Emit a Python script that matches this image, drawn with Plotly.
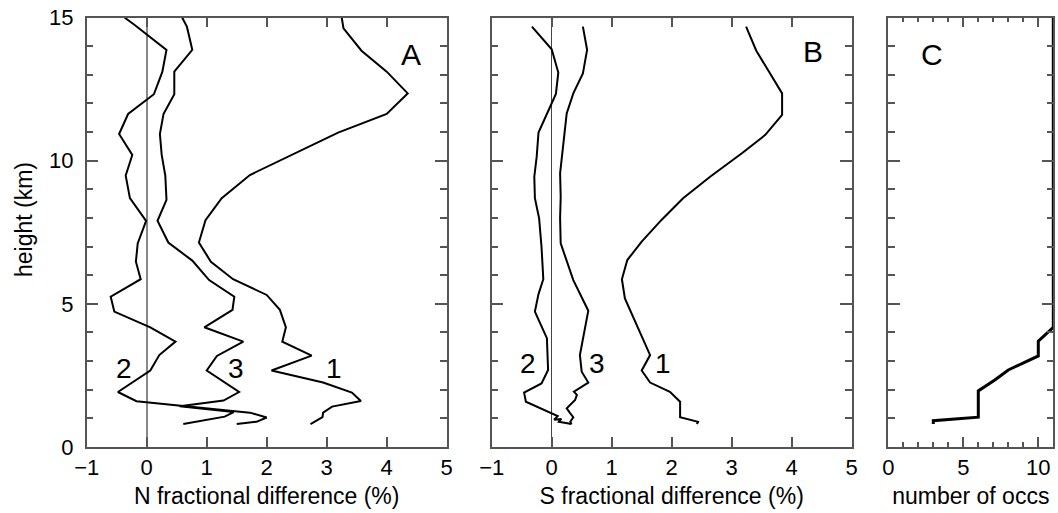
import plotly.graph_objects as go

# ---------------- data ----------------
# Panel A: N fractional difference (%)
a1_h = [15.0, 14.62, 13.84, 13.11, 12.35, 11.63, 10.98, 9.50, 8.69, 7.92, 7.14, 6.47, 5.86, 5.31,
        4.79, 4.18, 3.68, 3.19, 2.67, 2.25, 1.90, 1.61, 1.41, 1.20, 1.04, 0.80]
a1_x = [3.25, 3.28, 3.58, 4.00, 4.35, 4.00, 3.19, 1.72, 1.25, 0.98, 0.87, 1.07, 1.44, 2.00,
        2.22, 2.32, 2.26, 2.75, 2.08, 2.94, 3.42, 3.57, 3.09, 2.94, 2.93, 2.73]

a2_h = [15.0, 14.74, 13.87, 13.10, 12.32, 11.63, 10.93, 10.20, 9.48, 8.69, 7.90, 7.11, 6.47, 5.86,
        5.25, 4.73, 4.18, 3.68, 3.21, 2.67, 1.92, 1.60, 1.20, 1.03, 0.88, 0.80]
a2_x = [-0.37, -0.20, 0.33, 0.26, 0.12, -0.31, -0.46, -0.24, -0.35, -0.28, -0.01, -0.15, -0.18, -0.10,
        -0.60, -0.54, 0.06, 0.48, 0.21, 0.06, -0.48, -0.17, 1.72, 2.00, 1.83, 1.50]

a3_h = [15.0, 14.68, 13.87, 13.11, 12.32, 11.63, 10.93, 10.20, 9.48, 8.63, 7.90, 7.14, 6.51, 5.83,
        5.25, 4.79, 4.18, 3.68, 3.18, 2.67, 1.92, 1.62, 1.42, 1.22, 1.06, 0.80]
a3_x = [0.59, 0.67, 0.76, 0.46, 0.46, 0.28, 0.22, 0.25, 0.31, 0.33, 0.18, 0.36, 0.76, 1.04,
        1.46, 1.43, 0.96, 1.61, 1.17, 1.00, 1.54, 1.28, 0.55, 1.45, 1.30, 0.61]

# Panel B: S fractional difference (%)
b1_h = [14.68, 13.84, 12.35, 11.60, 10.90, 10.26, 9.44, 8.69, 7.93, 7.17, 6.53, 5.86, 5.19,
        3.21, 2.67, 2.25, 1.93, 1.58, 1.04, 0.88, 0.80]
b1_x = [3.24, 3.41, 3.84, 3.84, 3.56, 3.17, 2.64, 2.19, 1.83, 1.50, 1.26, 1.17, 1.22,
        1.64, 1.50, 1.64, 1.97, 2.14, 2.14, 2.44, 2.42]

b2_h = [14.68, 13.89, 13.08, 12.33, 10.98, 10.14, 9.44, 8.69, 7.99, 7.00, 5.86, 5.34, 4.73,
        3.80, 2.69, 2.22, 1.90, 1.58, 1.08, 0.95, 0.98, 0.88, 0.80]
b2_x = [-0.33, 0.00, 0.11, 0.07, -0.22, -0.25, -0.29, -0.28, -0.21, -0.17, -0.14, -0.22, -0.28,
        -0.08, -0.06, -0.17, -0.46, -0.43, 0.10, 0.04, 0.16, 0.12, 0.33]

b3_h = [14.68, 13.87, 13.05, 12.35, 11.65, 10.61, 9.56, 8.74, 7.99, 7.11, 6.47, 5.83, 4.76,
        4.20, 3.21, 2.63, 2.25, 1.93, 1.82, 1.64, 1.35, 1.20, 1.04, 0.88, 0.80]
b3_x = [0.52, 0.59, 0.52, 0.36, 0.25, 0.19, 0.14, 0.15, 0.14, 0.15, 0.25, 0.36, 0.61,
        0.56, 0.47, 0.50, 0.61, 0.37, 0.42, 0.39, 0.25, 0.30, 0.36, 0.31, 0.33]

# Panel C: number of occurrences
c_h = [0.80, 0.92, 1.04, 1.96, 2.34, 2.69, 3.18, 3.70, 4.18, 15.0]
c_n = [3, 3, 6, 6, 7.1, 8, 10, 10, 11, 11]

curve_labels = ["1", "2", "3"]
panel_letters = ["A", "B", "C"]
x_titles = ["N fractional difference (%)", "S fractional difference (%)", "number of occs"]
y_title = "height (km)"

# ---------------- figure ----------------
FONT = "Liberation Sans, Arial, Helvetica, sans-serif"
AX = "#555555"
W, H = 1058, 513

fig = go.Figure()
line = dict(color="black", width=2)
for xs, hs, ax in [(a1_x, a1_h, "1"), (a2_x, a2_h, "1"), (a3_x, a3_h, "1"),
                   (b1_x, b1_h, "2"), (b2_x, b2_h, "2"), (b3_x, b3_h, "2")]:
    fig.add_trace(go.Scatter(x=xs, y=hs, mode="lines", line=line,
                             xaxis="x" if ax == "1" else "x2",
                             yaxis="y" if ax == "1" else "y2",
                             showlegend=False, hoverinfo="skip"))
fig.add_trace(go.Scatter(x=c_n, y=c_h, mode="lines", line=dict(color="black", width=3),
                         xaxis="x3", yaxis="y3", showlegend=False, hoverinfo="skip"))

ydom = [(H - 447) / H, (H - 17.5) / H]
xdoms = [[86.7 / W, 446.7 / W], [491.7 / W, 851.7 / W], [888.3 / W, 1053.3 / W]]

common_x = dict(showgrid=False, showline=True, linecolor=AX, linewidth=1.5, mirror="ticks",
                ticks="inside", tickcolor=AX, tickwidth=1.5, ticklen=10, automargin=False,
                tickfont=dict(family=FONT, size=22, color="black"),
                title_font=dict(family=FONT, size=23, color="black"))
common_y = dict(showgrid=False, showline=True, linecolor=AX, linewidth=1.5, mirror="ticks",
                ticks="inside", tickcolor=AX, tickwidth=1.5, ticklen=12, automargin=False,
                range=[0, 15], tickvals=[0, 5, 10, 15], zeroline=False,
                minor=dict(ticks="inside", dtick=1, ticklen=7, tickcolor=AX, tickwidth=1.5),
                tickfont=dict(family=FONT, size=22, color="black"),
                title_font=dict(family=FONT, size=23, color="black"))

fig.update_layout(
    width=W, height=H, margin=dict(l=0, r=0, t=0, b=0, autoexpand=False),
    paper_bgcolor="white", plot_bgcolor="white",
    xaxis=dict(common_x, domain=xdoms[0], range=[-1, 5], dtick=1, anchor="y",
               zeroline=True, zerolinecolor="#888888", zerolinewidth=2,
               title=dict(text=x_titles[0], standoff=9)),
    xaxis2=dict(common_x, domain=xdoms[1], range=[-1, 5], dtick=1, anchor="y2",
                zeroline=True, zerolinecolor="#444444", zerolinewidth=1,
                title=dict(text=x_titles[1], standoff=9)),
    xaxis3=dict(common_x, domain=xdoms[2], range=[0, 11], tickvals=[0, 5, 10], anchor="y3",
                zeroline=False,
                minor=dict(ticks="inside", dtick=1, ticklen=5, tickcolor=AX, tickwidth=1.5),
                title=dict(text=x_titles[2], standoff=9)),
    yaxis=dict(common_y, domain=ydom, anchor="x", ticklabelstandoff=7),
    yaxis2=dict(common_y, domain=ydom, anchor="x2", showticklabels=False),
    yaxis3=dict(common_y, domain=ydom, anchor="x3", showticklabels=False),
)

ann = []
def lab(text, x, y, xref, yref, size, angle=0):
    ann.append(dict(text=text, x=x, y=y, xref=xref, yref=yref, showarrow=False,
                    xanchor="center", yanchor="middle",
                    textangle=angle, font=dict(family=FONT, size=size, color="black")))

# y axis title
lab(y_title, 24 / W, (H - 220) / H, "paper", "paper", 23, -90)
# panel letters
lab(panel_letters[0], 4.4, 13.7, "x", "y", 30)
lab(panel_letters[1], 4.35, 13.8, "x2", "y2", 30)
lab(panel_letters[2], 2.9, 13.7, "x3", "y3", 30)
# curve labels
lab(curve_labels[1], -0.38, 2.75, "x", "y", 28)
lab(curve_labels[2], 1.49, 2.75, "x", "y", 28)
lab(curve_labels[0], 3.12, 2.75, "x", "y", 28)
lab(curve_labels[1], -0.4, 2.92, "x2", "y2", 28)
lab(curve_labels[2], 0.76, 2.92, "x2", "y2", 28)
lab(curve_labels[0], 1.86, 2.92, "x2", "y2", 28)
fig.update_layout(annotations=ann)

fig.write_html("out.html", config={"displayModeBar": False},
               post_script="document.body.style.margin='0';document.body.style.overflow='hidden';")
